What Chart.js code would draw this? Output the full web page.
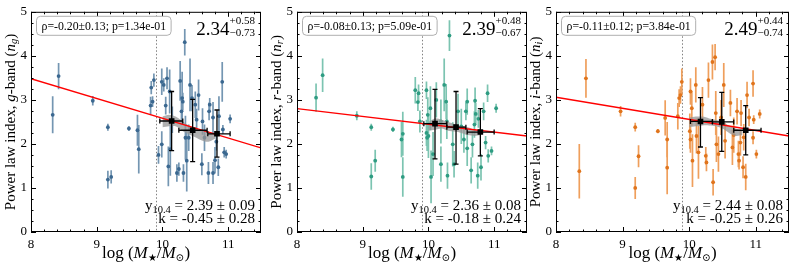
<!DOCTYPE html>
<html>
<head>
<meta charset="utf-8">
<script src="https://cdn.jsdelivr.net/npm/chart.js@4.4.1/dist/chart.umd.min.js"></script>
<style>
  body { margin: 0; background: #fff; }
  #wrap { position: relative; width: 793px; height: 267px; overflow: hidden; }
  .panel { position: absolute; top: 0; }
</style>
</head>
<body>
<div id="wrap">
  <canvas class="panel" id="cg" width="265" height="267" style="left:0px"></canvas>
  <canvas class="panel" id="cr" width="265" height="267" style="left:266px"></canvas>
  <canvas class="panel" id="ci" width="268" height="267" style="left:525px"></canvas>
</div>
<script>
// g-band galaxies: stellar mass, power law index, error
const gX = [8.33, 8.42, 8.94, 9.17, 9.17, 9.22, 9.49, 9.62, 9.64, 9.82, 9.83, 9.85, 9.87,
  9.94, 9.99, 9.99, 10.02, 10.05, 10.07, 10.09, 10.11, 10.12, 10.15, 10.22, 10.25, 10.27, 10.29,
  10.30, 10.31, 10.34, 10.32, 10.35, 10.37, 10.40, 10.42, 10.45, 10.50, 10.52, 10.55, 10.60, 10.61,
  10.64, 10.70, 10.71, 10.72, 10.77, 10.77, 10.80, 10.82, 10.85, 10.86, 10.91, 10.92, 10.94, 10.97, 11.03];
const gY = [2.66, 3.54, 2.98, 2.38, 1.19, 1.25, 2.35, 2.31, 1.88, 2.87, 3.28, 2.96, 3.45,
  1.75, 3.41, 1.99, 3.34, 2.87, 3.49, 1.49, 3.19, 1.88, 2.55, 1.34, 1.43, 3.43, 2.74,
  3.04, 2.96, 4.31, 1.34, 2.14, 1.62, 2.14, 3.34, 3.04, 2.89, 2.55, 3.11, 1.54, 2.51,
  2.14, 1.34, 2.74, 2.89, 2.60, 1.34, 1.63, 2.05, 1.47, 2.63, 3.41, 2.33, 1.81, 1.77, 2.57];
const gErr = [0.42, 0.30, 0.11, 0.08, 0.20, 0.15, 0.05, 0.35, 0.55, 0.20, 0.15, 0.12, 0.15,
  0.20, 0.30, 0.30, 0.15, 0.20, 0.25, 0.45, 0.50, 0.60, 0.30, 0.20, 0.15, 0.45, 0.30,
  0.60, 0.20, 0.30, 0.20, 0.50, 0.70, 0.30, 0.60, 0.30, 0.30, 0.25, 0.35, 0.25, 0.30,
  0.30, 0.25, 0.20, 0.15, 0.35, 0.25, 0.30, 0.20, 0.20, 0.45, 0.45, 0.10, 0.12, 0.10, 0.10];

// r-band galaxies
const rX = [8.29, 8.39, 8.91, 9.13, 9.13, 9.19, 9.46, 9.59, 9.61, 9.61, 9.80, 9.84, 9.85, 9.87,
  9.97, 9.97, 9.98, 9.99, 10.00, 10.03, 10.04, 10.07, 10.12, 10.19, 10.19, 10.24, 10.27, 10.28,
  10.29, 10.32, 10.37, 10.39, 10.45, 10.50, 10.54, 10.57, 10.59, 10.59, 10.65, 10.67, 10.70,
  10.71, 10.72, 10.75, 10.76, 10.80, 10.84, 10.87, 10.90, 10.91, 10.96, 11.03];
const rY = [3.05, 3.56, 2.64, 2.38, 1.26, 1.62, 2.33, 2.10, 2.23, 1.25, 3.22, 2.95, 3.15, 2.51,
  3.22, 2.25, 2.14, 2.66, 2.18, 2.81, 1.25, 1.77, 3.00, 2.51, 1.54, 3.34, 2.96, 2.51,
  1.28, 4.46, 1.99, 1.54, 2.74, 2.40, 2.10, 2.74, 2.96, 1.90, 1.40, 1.99, 2.44,
  2.98, 2.68, 1.28, 2.57, 1.47, 2.74, 2.03, 3.15, 1.73, 1.84, 2.81];
const rErr = [0.32, 0.38, 0.10, 0.08, 0.30, 0.25, 0.06, 0.40, 0.50, 0.45, 0.30, 0.20, 0.20, 0.25,
  0.20, 0.30, 0.30, 0.40, 0.50, 0.50, 0.60, 0.50, 0.40, 0.50, 0.40, 0.60, 0.40, 0.40,
  0.30, 0.35, 0.50, 0.30, 0.40, 0.40, 0.30, 0.20, 0.30, 0.40, 0.30, 0.30, 0.30,
  0.30, 0.25, 0.30, 0.20, 0.30, 0.20, 0.15, 0.20, 0.15, 0.10, 0.10];

// i-band galaxies
const iX = [8.35, 8.45, 8.97, 9.19, 9.19, 9.24, 9.53, 9.64, 9.67, 9.67, 9.83, 9.85, 9.87, 9.89,
  10.01, 10.02, 10.02, 10.04, 10.05, 10.10, 10.11, 10.14, 10.20, 10.25, 10.26, 10.29, 10.35,
  10.36, 10.39, 10.40, 10.41, 10.44, 10.48, 10.52, 10.54, 10.62, 10.65, 10.67, 10.72, 10.74,
  10.75, 10.77, 10.78, 10.81, 10.82, 10.85, 10.87, 10.90, 10.96, 10.96, 10.97, 11.01, 11.06];
const iY = [1.38, 3.49, 2.74, 2.38, 1.00, 1.72, 2.29, 2.59, 2.10, 1.46, 2.63, 3.04, 3.11, 3.41,
  2.29, 3.19, 2.10, 2.81, 1.62, 3.34, 2.18, 1.81, 2.89, 1.73, 1.58, 3.45, 3.86,
  1.13, 3.97, 2.70, 1.99, 1.77, 2.60, 3.34, 2.07, 2.93, 1.92, 2.20, 2.74, 1.77,
  1.62, 2.03, 2.70, 1.47, 2.15, 1.25, 3.11, 2.60, 3.37, 2.14, 2.55, 1.77, 2.68];
const iErr = [0.62, 0.44, 0.12, 0.10, 0.25, 0.25, 0.05, 0.40, 0.40, 0.60, 0.30, 0.20, 0.20, 0.30,
  0.40, 0.30, 0.30, 0.40, 0.60, 0.40, 0.40, 0.60, 0.40, 0.20, 0.20, 0.40, 0.40,
  0.30, 0.30, 0.50, 0.40, 0.40, 0.40, 0.50, 0.40, 0.30, 0.40, 0.40, 0.30, 0.30,
  0.20, 0.30, 0.30, 0.25, 0.30, 0.30, 0.30, 0.20, 0.30, 0.15, 0.10, 0.10, 0.10];

// binned medians (black squares)
const gBinX = [10.14, 10.46, 10.83], gBinY = [2.52, 2.31, 2.23];
const gBinLo = [1.85, 1.60, 1.70], gBinHi = [3.19, 3.01, 2.77];
const gBinXlo = [9.96, 10.25, 10.69], gBinXhi = [10.31, 10.68, 11.03];
const rBinX = [10.10, 10.42, 10.79], rBinY = [2.46, 2.38, 2.27];
const rBinLo = [1.66, 1.54, 1.73], rBinHi = [3.24, 3.19, 2.80];
const rBinXlo = [9.93, 10.28, 10.59], rBinXhi = [10.28, 10.57, 11.00];
const iBinX = [10.17, 10.49, 10.85], iBinY = [2.51, 2.50, 2.31];
const iBinLo = [1.93, 1.83, 1.75], iBinHi = [3.05, 3.17, 2.87];
const iBinXlo = [10.02, 10.35, 10.67], iBinXhi = [10.35, 10.67, 11.08];

// running band (grey)
const bandX = [10.0, 10.1, 10.2, 10.3, 10.4, 10.5, 10.6, 10.7, 10.8];
const gBandLo = [2.38, 2.40, 2.40, 2.30, 2.22, 2.15, 2.08, 2.05, 2.12];
const gBandHi = [2.62, 2.66, 2.62, 2.52, 2.42, 2.36, 2.30, 2.27, 2.25];
const rBandLo = [2.30, 2.32, 2.35, 2.30, 2.28, 2.25, 2.20, 2.18, 2.20];
const rBandHi = [2.50, 2.58, 2.55, 2.50, 2.45, 2.40, 2.38, 2.32, 2.30];
const iBandLo = [2.38, 2.40, 2.42, 2.42, 2.40, 2.35, 2.25, 2.18, 2.20];
const iBandHi = [2.60, 2.62, 2.62, 2.58, 2.55, 2.50, 2.42, 2.35, 2.30];

// linear fits
const fitX = [8, 11.5];
const gFit = [3.48, 1.91], rFit = [2.80, 2.18], iFit = [3.06, 2.18];
const massCut = 9.9;

// axes
const xMin = 8, xMax = 11.5, yMin = 0, yMax = 5;
const xMajor = [8, 9, 10, 11];

// annotation texts
const rhoText = ['ρ=-0.20±0.13; p=1.34e-01', 'ρ=-0.08±0.13; p=5.09e-01', 'ρ=-0.11±0.12; p=3.84e-01'];
const medVal = ['2.34', '2.39', '2.49'];
const medPlus = ['+0.58', '+0.48', '+0.44'];
const medMinus = ['−0.73', '−0.67', '−0.74'];
const y104Text = ['2.39 ± 0.09', '2.36 ± 0.08', '2.44 ± 0.08'];
const kText = ['-0.45 ± 0.28', '-0.18 ± 0.24', '-0.25 ± 0.26'];

const SERIF = '"Liberation Serif", "DejaVu Serif", serif';

function pts(xs, ys) {
    return xs.map((x, i) => ({ x: x, y: ys[i] }));
}

function fnt(size, italic) {
    return (italic ? 'italic ' : '') + size + 'px ' + SERIF;
}

// parts: [text, size, italic, dy]
function richText(ctx, parts, x, y, align) {
    let w = 0;
    parts.forEach(p => { ctx.font = fnt(p[1], p[2]); w += ctx.measureText(p[0]).width; });
    let cx = align === 'right' ? x - w : (align === 'center' ? x - w / 2 : x);
    ctx.textAlign = 'left';
    parts.forEach(p => {
        ctx.font = fnt(p[1], p[2]);
        ctx.fillText(p[0], cx, y + (p[3] || 0));
        cx += ctx.measureText(p[0]).width;
    });
}

function panelPlugin(P) {
    return {
        id: 'panel_' + P.k,
        beforeDatasetsDraw(chart) {
            const { ctx, chartArea: a, scales: { x, y } } = chart;
            ctx.save();
            ctx.beginPath(); ctx.rect(a.left, a.top, a.width, a.height); ctx.clip();
            // dotted mass limit
            const mx = Math.round(x.getPixelForValue(massCut)) + 0.5;
            ctx.strokeStyle = '#808080'; ctx.lineWidth = 1; ctx.setLineDash([1.5, 2]);
            ctx.beginPath(); ctx.moveTo(mx, a.top); ctx.lineTo(mx, a.bottom); ctx.stroke();
            ctx.setLineDash([]);
            // galaxy error bars
            ctx.strokeStyle = P.errColor; ctx.lineWidth = 1.7;
            P.xs.forEach((v, i) => {
                const px = x.getPixelForValue(v);
                ctx.beginPath();
                ctx.moveTo(px, y.getPixelForValue(P.ys[i] - P.es[i]));
                ctx.lineTo(px, y.getPixelForValue(P.ys[i] + P.es[i]));
                ctx.stroke();
            });
            ctx.restore();
        },
        afterDatasetsDraw(chart) {
            const { ctx, chartArea: a, scales: { x, y } } = chart;
            ctx.save();
            // binned error bars
            ctx.strokeStyle = '#000'; ctx.lineWidth = 1.3;
            P.bx.forEach((v, i) => {
                const px = x.getPixelForValue(v), py = y.getPixelForValue(P.by[i]);
                const t = y.getPixelForValue(P.bhi[i]), b = y.getPixelForValue(P.blo[i]);
                const l = x.getPixelForValue(P.bxlo[i]), r = x.getPixelForValue(P.bxhi[i]);
                ctx.beginPath();
                ctx.moveTo(px, t); ctx.lineTo(px, b);
                ctx.moveTo(px - 2.5, t); ctx.lineTo(px + 2.5, t);
                ctx.moveTo(px - 2.5, b); ctx.lineTo(px + 2.5, b);
                ctx.moveTo(l, py); ctx.lineTo(r, py);
                ctx.moveTo(l, py - 2.5); ctx.lineTo(l, py + 2.5);
                ctx.moveTo(r, py - 2.5); ctx.lineTo(r, py + 2.5);
                ctx.stroke();
            });
            // frame
            ctx.lineWidth = 1;
            ctx.strokeRect(a.left + 0.5, a.top + 0.5, a.width - 1, a.height - 1);
            // inward ticks on all sides
            ctx.beginPath();
            for (let k = 0; k <= 17; k++) {
                const v = xMin + k * 0.2;
                const len = Math.abs(v - Math.round(v)) < 1e-6 ? 5 : 2.5;
                const px = Math.round(x.getPixelForValue(v)) + 0.5;
                ctx.moveTo(px, a.bottom); ctx.lineTo(px, a.bottom - len);
                ctx.moveTo(px, a.top); ctx.lineTo(px, a.top + len);
            }
            for (let k = 0; k <= 20; k++) {
                const v = yMin + k * 0.25;
                const len = Math.abs(v - Math.round(v)) < 1e-6 ? 5 : 2.5;
                const py = Math.round(y.getPixelForValue(v)) + 0.5;
                ctx.moveTo(a.left, py); ctx.lineTo(a.left + len, py);
                ctx.moveTo(a.right, py); ctx.lineTo(a.right - len, py);
            }
            ctx.stroke();

            ctx.fillStyle = '#000';
            ctx.textBaseline = 'alphabetic';
            // correlation box
            ctx.font = fnt(11.8, false);
            const tw = ctx.measureText(P.rho).width;
            ctx.strokeStyle = '#b0b0b0';
            ctx.beginPath();
            ctx.roundRect(a.left + 5.5, a.top + 4.5, tw + 10, 19, 4);
            ctx.fillStyle = '#fff'; ctx.fill(); ctx.stroke();
            ctx.fillStyle = '#000';
            ctx.fillText(P.rho, a.left + 10.5, a.top + 18);
            // median with asymmetric errors
            const R = a.right - 6;
            ctx.font = fnt(11, false);
            const sw = Math.max(ctx.measureText(P.plus).width, ctx.measureText(P.minus).width);
            ctx.textAlign = 'left';
            ctx.fillText(P.plus, R - sw, a.top + 12.5);
            ctx.fillText(P.minus, R - sw, a.top + 24);
            ctx.font = fnt(19, false);
            ctx.textAlign = 'right';
            ctx.fillText(P.med, R - sw, a.top + 23);
            // fit results
            richText(ctx, [['y', 15, false], ['10.4', 10.5, false, 3], [' = ' + P.y104, 15, false]],
                a.right - 6, a.bottom - 22, 'right');
            richText(ctx, [['k = ' + P.kk, 15, false]], a.right - 6, a.bottom - 9, 'right');
            ctx.restore();
        },
        afterDraw(chart) {
            const { ctx, chartArea: a } = chart;
            ctx.save();
            ctx.fillStyle = '#000';
            ctx.textBaseline = 'middle';
            // y title
            ctx.translate(11, (a.top + a.bottom) / 2);
            ctx.rotate(-Math.PI / 2);
            richText(ctx, [['Power law index, ', 15, false], [P.k, 15, true], ['-band (', 15, false],
                ['n', 15, true], [P.k, 10.5, true, 3], [')', 15, false]], 0, 0, 'center');
            ctx.restore();
            ctx.save();
            ctx.fillStyle = '#000';
            ctx.textBaseline = 'alphabetic';
            // x title
            richText(ctx, [['log (', 17, false], ['M', 17, true], ['★', 9.5, false, 3], ['/', 17, false],
                ['M', 17, true], ['⊙', 10.5, false, 3], [')', 17, false]],
                (a.left + a.right) / 2, 258, 'center');
            ctx.restore();
        }
    };
}

function makePanel(id, P, padRight) {
    const ctx = document.getElementById(id).getContext('2d');
    return new Chart(ctx, {
        type: 'scatter',
        data: {
            datasets: [
                {   // binned medians
                    data: pts(P.bx, P.by), order: 0,
                    pointStyle: 'rect', pointRadius: 4, backgroundColor: '#000', borderColor: '#000', borderWidth: 0
                },
                {   // linear fit
                    data: pts(fitX, P.fit), order: 1, showLine: true, pointRadius: 0,
                    borderColor: '#ff0000', borderWidth: 1.3
                },
                {   // band upper
                    data: pts(bandX, P.bandHi), order: 2, showLine: true, pointRadius: 0, borderWidth: 0,
                    borderColor: 'rgba(0,0,0,0)', fill: '+1', backgroundColor: 'rgba(150,150,150,0.75)', tension: 0.3
                },
                {   // band lower
                    data: pts(bandX, P.bandLo), order: 3, showLine: true, pointRadius: 0, borderWidth: 0,
                    borderColor: 'rgba(0,0,0,0)', tension: 0.3
                },
                {   // galaxies
                    data: pts(P.xs, P.ys), order: 4,
                    pointStyle: 'circle', pointRadius: 1.9, backgroundColor: P.color, borderColor: P.color, borderWidth: 0
                }
            ]
        },
        options: {
            responsive: false,
            animation: false,
            layout: { padding: { top: 9, right: padRight, left: 0, bottom: 0 } },
            plugins: { legend: { display: false }, tooltip: { enabled: false } },
            scales: {
                x: {
                    type: 'linear', min: xMin, max: xMax,
                    grid: { display: false, drawTicks: false },
                    border: { display: false },
                    ticks: { padding: 5, color: '#000', font: { family: SERIF, size: 13 }, maxRotation: 0, autoSkip: false },
                    afterBuildTicks: s => { s.ticks = xMajor.map(v => ({ value: v })); },
                    afterFit: s => { s.height = 35; }
                },
                y: {
                    type: 'linear', min: yMin, max: yMax,
                    grid: { display: false, drawTicks: false },
                    border: { display: false },
                    ticks: { stepSize: 1, padding: 4, color: '#000', font: { family: SERIF, size: 13 } },
                    afterFit: s => { s.width = 31; }
                }
            }
        },
        plugins: [panelPlugin(P)]
    });
}

const panels = [
    { k: 'g', xs: gX, ys: gY, es: gErr, bx: gBinX, by: gBinY, blo: gBinLo, bhi: gBinHi, bxlo: gBinXlo, bxhi: gBinXhi,
      bandLo: gBandLo, bandHi: gBandHi, fit: gFit, color: '#3b6890', errColor: '#7496b2' },
    { k: 'r', xs: rX, ys: rY, es: rErr, bx: rBinX, by: rBinY, blo: rBinLo, bhi: rBinHi, bxlo: rBinXlo, bxhi: rBinXhi,
      bandLo: rBandLo, bandHi: rBandHi, fit: rFit, color: '#2e9c82', errColor: '#7cc4b1' },
    { k: 'i', xs: iX, ys: iY, es: iErr, bx: iBinX, by: iBinY, blo: iBinLo, bhi: iBinHi, bxlo: iBinXlo, bxhi: iBinXhi,
      bandLo: iBandLo, bandHi: iBandHi, fit: iFit, color: '#e0741c', errColor: '#ef9f5c' }
];
panels.forEach((P, n) => {
    P.rho = rhoText[n]; P.med = medVal[n]; P.plus = medPlus[n]; P.minus = medMinus[n];
    P.y104 = y104Text[n]; P.kk = kText[n];
});

makePanel('cg', panels[0], 2);
makePanel('cr', panels[1], 3);
makePanel('ci', panels[2], 4);
</script>
</body>
</html>
